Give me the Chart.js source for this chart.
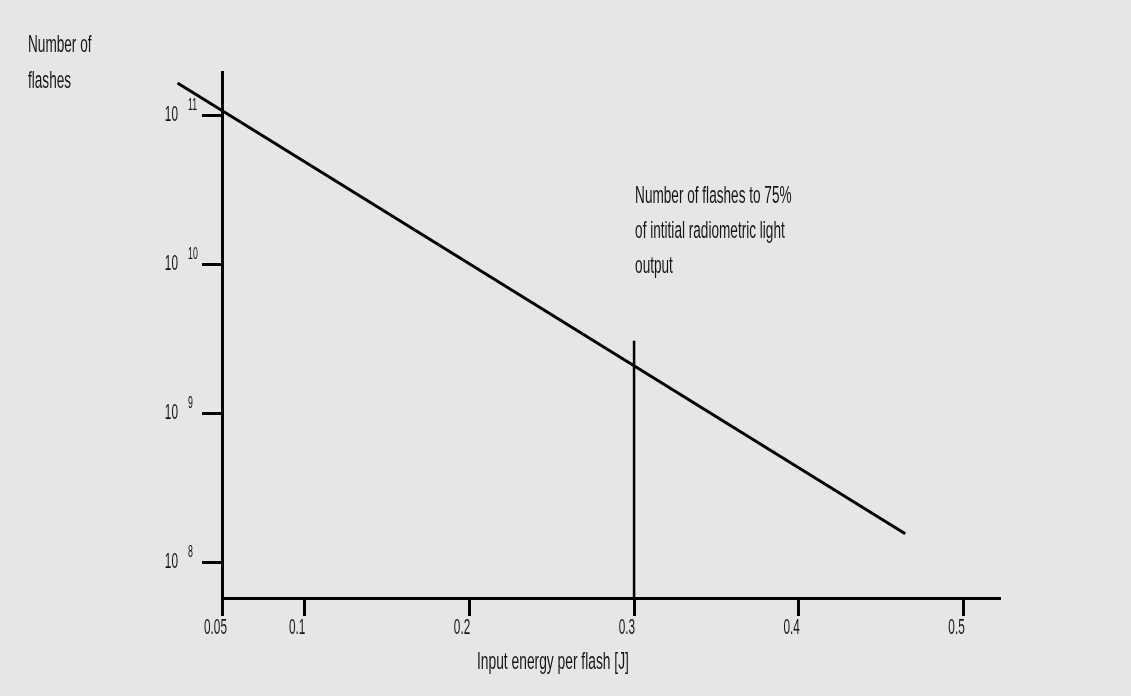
<!DOCTYPE html>
<html lang="en">
  <head>
    <meta charset="UTF-8" />
    <title>Number of flashes vs input energy</title>
    <style>
      html, body { margin: 0; padding: 0; background: #e6e6e6; }
      .wrap { position: relative; width: 1131px; height: 696px; }
    </style>
  </head>
  <body>
    <div class="wrap">
      <canvas id="myChart"></canvas>
    </div>

    <script src="https://cdn.jsdelivr.net/npm/chart.js"></script>
    <script>
      // data
      const xTicks = [0.05, 0.1, 0.2, 0.3, 0.4, 0.5];
      const yTicks = [1e8, 1e9, 1e10, 1e11];
      const lifeEnergy = [0.023, 0.4645];
      const lifeFlashes = [1.66e11, 1.57e8];
      const markerEnergy = [0.3, 0.3];
      const markerFlashes = [3.1e9, 5.82e7];

      const yTitle = ["Number of", "flashes"];
      const xTitle = "Input energy per flash [J]";
      const note = ["Number of flashes to 75%", "of intitial radiometric light", "output"];

      const ink = "#151515";

      // draws a tall, narrow label: size is the font height, wide the width per px of a normal face
      function squeezedText(ctx, str, x, y, size, wide, align) {
        ctx.save();
        ctx.font = size + "px 'Liberation Sans', Arial, sans-serif";
        ctx.fillStyle = ink;
        ctx.textBaseline = "alphabetic";
        ctx.textAlign = align || "left";
        ctx.translate(x, y);
        ctx.scale(wide / size, 1);
        ctx.fillText(str, 0, 0);
        ctx.restore();
      }

      const textPlugin = {
        id: "texts",
        afterDraw(chart) {
          const ctx = chart.ctx;
          const xs = chart.scales.x;
          const ys = chart.scales.y;
          const area = chart.chartArea;

          // y tick labels as 10 with raised exponent
          ys.ticks.forEach(t => {
            const py = ys.getPixelForValue(t.value);
            const exp = Math.round(Math.log10(t.value));
            squeezedText(ctx, "10", area.left - 44, py + 5, 22, 11.8, "right");
            squeezedText(ctx, String(exp), area.left - 34, py - 6, 16, 8.8, "left");
          });

          // x tick labels
          xs.ticks.forEach(t => {
            const px = xs.getPixelForValue(t.value);
            const shift = t.value === 0.05 ? 5 : 1;
            squeezedText(ctx, String(t.value), px + shift, area.bottom + 36, 22, 11.8, "right");
          });

          // axis titles
          squeezedText(ctx, yTitle[0], 28, 52, 24.5, 13.6);
          squeezedText(ctx, yTitle[1], 28, 88, 24.5, 13.6);
          squeezedText(ctx, xTitle, 477, 669, 24.5, 13.8);

          // note next to the 0.3 J marker
          const nx = xs.getPixelForValue(0.3);
          note.forEach((s, i) => squeezedText(ctx, s, nx + 1, 203 + i * 35, 24.5, 13.6));
        }
      };

      const ctx = document.getElementById("myChart").getContext("2d");
      new Chart(ctx, {
        type: "line",
        data: {
          datasets: [
            {
              data: lifeEnergy.map((x, i) => ({ x: x, y: lifeFlashes[i] })),
              borderColor: "#000",
              borderWidth: 3,
              pointRadius: 0,
              clip: false
            },
            {
              data: markerEnergy.map((x, i) => ({ x: x, y: markerFlashes[i] })),
              borderColor: "#000",
              borderWidth: 2.5,
              pointRadius: 0,
              clip: false
            }
          ]
        },
        options: {
          responsive: true,
          maintainAspectRatio: false,
          animation: false,
          layout: { padding: { top: 72, right: 131, left: 0, bottom: 0 } },
          plugins: { legend: { display: false }, tooltip: { enabled: false } },
          scales: {
            x: {
              type: "linear",
              min: 0.05,
              max: 0.522,
              afterBuildTicks: s => { s.ticks = xTicks.map(v => ({ value: v })); },
              afterFit: s => { s.height = 98; },
              ticks: { display: false },
              grid: { drawOnChartArea: false, drawTicks: true, tickLength: 18, tickColor: "#000", tickWidth: 3 },
              border: { display: true, color: "#000", width: 3 }
            },
            y: {
              type: "logarithmic",
              min: 5.82e7,
              max: 1.97e11,
              afterBuildTicks: s => { s.ticks = yTicks.map(v => ({ value: v })); },
              afterFit: s => { s.width = 222; },
              ticks: { display: false },
              grid: { drawOnChartArea: false, drawTicks: true, tickLength: 20, tickColor: "#000", tickWidth: 3 },
              border: { display: true, color: "#000", width: 3 }
            }
          }
        },
        plugins: [textPlugin]
      });
    </script>
  </body>
</html>
